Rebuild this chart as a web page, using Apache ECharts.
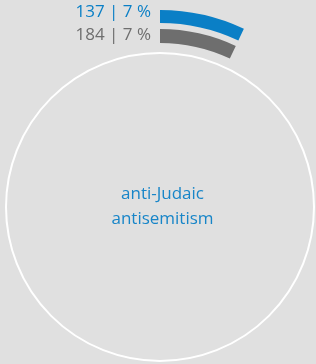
<!DOCTYPE html>
<html>
<head>
<meta charset="utf-8">
<script src="https://cdn.jsdelivr.net/npm/echarts@6/dist/echarts.min.js"></script>
<style>
  html, body { margin: 0; padding: 0; background: #e0e0e0; }
  #wrap { width: 316px; height: 364px; }
</style>
</head>
<body>
<div id="wrap"></div>
<script>
var names = ['blue', 'gray'];
var counts = [137, 184];
var percents = [7, 7];
var colors = ['#0a7fc6', '#6e6e6e'];
var centerLabel = 'anti-Judaic\nantisemitism';

var center = [160, 207];
var radii = [[184, 197], [164, 178]];

var series = [{
    type: 'pie',
    center: center,
    radius: 154,
    silent: true,
    label: {
        show: true,
        position: 'center',
        formatter: centerLabel,
        color: '#1785c8',
        fontFamily: 'Open Sans',
        fontSize: 17,
        lineHeight: 25,
        padding: [0, 0, 2, 5]
    },
    labelLine: { show: false },
    itemStyle: { color: 'rgba(0,0,0,0)', borderColor: '#ffffff', borderWidth: 2 },
    data: [{ value: 1 }]
}];

names.forEach(function (n, i) {
    series.push({
        type: 'pie',
        center: center,
        radius: radii[i],
        startAngle: 90,
        clockwise: true,
        silent: true,
        label: { show: false },
        labelLine: { show: false },
        data: [
            { value: percents[i], itemStyle: { color: colors[i] } },
            { value: 100 - percents[i], itemStyle: { color: 'rgba(0,0,0,0)' } }
        ]
    });
});

var graphic = names.map(function (n, i) {
    return {
        type: 'text',
        right: 165,
        top: 4 + i * 23,
        style: {
            text: counts[i] + ' | ' + percents[i] + ' %',
            fill: colors[i],
            font: '17px "Open Sans"'
        }
    };
});

var option = {
    backgroundColor: '#e0e0e0',
    animation: false,
    graphic: graphic,
    series: series
};

var myChart = echarts.init(document.getElementById('wrap'));
myChart.setOption(option);
</script>
</body>
</html>
